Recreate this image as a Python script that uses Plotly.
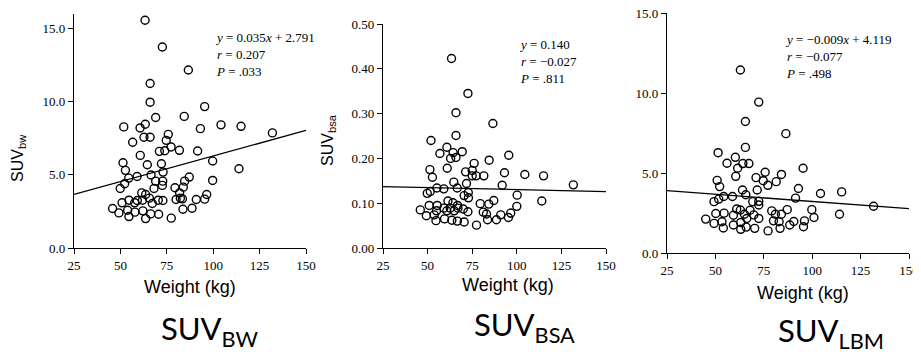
import plotly.graph_objects as go

# the page body keeps its default 8px margin, so the figure is drawn 8px in
W, H = 921, 355
OFF = 8
FW, FH = W - OFF, H - OFF

# Panel 1: SUV normalised by body weight
w_bw = [63.3, 72.6, 86.6, 66.0, 66.0, 95.4, 69.0, 84.4, 51.8, 60.6, 63.4, 104.2, 115.0, 93.1, 131.9,
        56.6, 62.7, 66.0, 75.8, 74.7, 77.3, 71.0, 73.9, 81.8, 91.6, 60.7, 99.7, 51.4, 64.5, 72.1,
        113.9, 52.7, 73.0, 54.5, 59.0, 66.5, 69.0, 72.8, 87.1, 84.6, 99.7, 52.3, 49.9, 72.6, 68.1,
        79.4, 83.9, 61.5, 63.6, 65.6, 81.9, 82.3, 83.4, 96.5, 95.4, 90.9, 80.0, 50.9, 54.6, 59.1,
        57.7, 61.9, 67.2, 70.4, 72.9, 45.8, 49.2, 53.9, 57.8, 62.1, 66.3, 70.6, 83.7, 88.6, 54.6,
        63.6, 77.4]
suv_bw = [15.57, 13.74, 12.17, 11.25, 9.97, 9.67, 8.92, 9.0, 8.28, 8.21, 8.46, 8.42, 8.32, 8.16, 7.87,
          7.23, 7.57, 7.57, 7.77, 7.36, 6.91, 6.61, 6.65, 6.68, 6.63, 6.33, 5.95, 5.83, 5.69, 5.76,
          5.42, 5.31, 5.19, 4.78, 4.89, 4.99, 4.57, 4.57, 4.85, 4.57, 4.62, 4.39, 4.07, 4.28, 4.07,
          4.12, 4.16, 3.77, 3.66, 3.41, 3.77, 3.41, 3.36, 3.66, 3.34, 3.32, 3.32, 3.09, 3.27, 3.25,
          3.09, 3.27, 3.04, 3.27, 3.25, 2.70, 2.40, 2.58, 2.45, 2.54, 2.33, 2.31, 2.65, 2.72, 2.15,
          2.01, 2.04]

# Panel 2: SUV normalised by body surface area
w_bsa = [63.4, 72.6, 65.9, 86.6, 65.9, 51.9, 60.8, 56.9, 64.3, 69.4, 65.9, 62.9, 95.5, 84.5, 76.1,
         51.3, 61.0, 71.3, 75.0, 93.1, 104.5, 115.0, 52.7, 75.0, 77.2, 81.5, 131.7, 64.7, 71.8, 91.8,
         55.2, 59.1, 66.6, 51.5, 49.8, 72.8, 70.5, 72.9, 100.2, 61.4, 64.2, 87.1, 114.0, 50.9, 55.4,
         66.8, 79.5, 84.3, 100.0, 59.1, 62.7, 67.0, 70.0, 45.9, 55.0, 60.8, 64.9, 72.6, 81.2, 83.0,
         96.6, 91.0, 49.3, 53.7, 59.5, 63.6, 54.7, 66.7, 70.5, 77.4, 88.6, 83.6, 95.3]
suv_bsa = [0.423, 0.345, 0.302, 0.278, 0.251, 0.240, 0.225, 0.211, 0.213, 0.215, 0.202, 0.200, 0.207,
           0.196, 0.189, 0.175, 0.178, 0.170, 0.173, 0.168, 0.164, 0.161, 0.158, 0.161, 0.161, 0.161,
           0.141, 0.147, 0.144, 0.140, 0.134, 0.132, 0.134, 0.126, 0.122, 0.124, 0.117, 0.112, 0.118,
           0.105, 0.101, 0.106, 0.105, 0.095, 0.095, 0.095, 0.099, 0.098, 0.093, 0.089, 0.089, 0.089,
           0.087, 0.085, 0.083, 0.083, 0.083, 0.081, 0.080, 0.076, 0.078, 0.074, 0.072, 0.074, 0.065,
           0.062, 0.061, 0.060, 0.058, 0.051, 0.063, 0.063, 0.068]

# Panel 3: SUV normalised by lean body mass
w_lbm = [62.9, 72.4, 65.5, 86.4, 65.5, 51.4, 60.3, 56.0, 64.2, 67.3, 61.5, 95.3, 75.7, 84.1, 60.5,
         71.0, 74.7, 50.9, 77.1, 81.4, 52.2, 71.6, 64.0, 92.9, 104.3, 115.2, 58.8, 54.3, 51.7, 65.7,
         91.4, 131.7, 49.3, 69.3, 72.4, 72.4, 61.0, 62.9, 67.9, 79.1, 87.1, 99.8, 50.2, 54.5, 59.3,
         65.0, 69.8, 81.0, 84.1, 114.1, 45.0, 53.4, 49.3, 59.3, 63.1, 66.2, 72.4, 80.0, 82.9, 90.5,
         100.9, 96.0, 54.1, 63.1, 65.9, 70.3, 77.2, 83.4, 88.4, 95.5]
suv_lbm = [11.44, 9.43, 8.22, 7.46, 6.60, 6.27, 5.98, 5.61, 5.59, 5.59, 5.30, 5.30, 5.05, 4.91, 4.79,
           4.71, 4.52, 4.54, 4.23, 4.46, 4.15, 3.94, 3.94, 4.03, 3.72, 3.82, 3.53, 3.53, 3.37, 3.64,
           3.43, 2.92, 3.21, 3.21, 3.23, 3.00, 2.75, 2.69, 2.67, 2.63, 2.71, 2.71, 2.47, 2.49, 2.36,
           2.42, 2.38, 2.42, 2.42, 2.42, 2.12, 1.95, 1.85, 1.75, 1.91, 2.16, 2.16, 2.01, 1.95, 1.97,
           2.22, 2.01, 1.56, 1.48, 1.62, 1.54, 1.38, 1.54, 1.75, 1.64]

# regression lines (end points at 25 and 150 kg)
fit_x = [25, 150]
fit_bw = [3.666, 8.041]
fit_bsa = [0.137, 0.126]
fit_lbm = [3.894, 2.769]

x_ticks = [25, 50, 75, 100, 125, 150]

stats = [
    "<i>y</i> = 0.035<i>x</i> + 2.791<br><i>r</i> = 0.207<br><i>P</i> = .033",
    "<i>y</i> = 0.140<br><i>r</i> = \u22120.027<br><i>P</i> = .811",
    "<i>y</i> = \u22120.009<i>x</i> + 4.119<br><i>r</i> = \u22120.077<br><i>P</i> = .498",
]
panel_names = ["SUV<sub>BW</sub>", "SUV<sub>BSA</sub>", "SUV<sub>LBM</sub>"]


def px_x(p):
    return (p - OFF) / FW


def px_y(p):
    return 1 - (p - OFF) / FH


serif = "Liberation Serif, Times New Roman, serif"
sans = "Liberation Sans, Arial, sans-serif"

fig = go.Figure()

panels = [(w_bw, suv_bw, fit_bw), (w_bsa, suv_bsa, fit_bsa), (w_lbm, suv_lbm, fit_lbm)]
for i, (wx, wy, fy) in enumerate(panels):
    n = "" if i == 0 else str(i + 1)
    fig.add_trace(go.Scatter(x=wx, y=wy, mode="markers", xaxis="x" + n, yaxis="y" + n,
                             marker=dict(symbol="circle-open", size=8, color="black",
                                         line=dict(width=1.4, color="black")),
                             showlegend=False))
    fig.add_trace(go.Scatter(x=fit_x, y=fy, mode="lines", xaxis="x" + n, yaxis="y" + n,
                             line=dict(color="black", width=1.3), showlegend=False))

ax = dict(showline=True, linecolor="black", linewidth=1.3, ticks="outside", ticklen=5,
          tickwidth=1.2, tickcolor="black", showgrid=False, zeroline=False, automargin=False,
          ticklabeloverflow="allow",
          tickfont=dict(family=serif, size=13, color="black"))

x_domains = [(74, 306), (383, 606), (667, 909)]
y_domains = [(248, 14), (248, 24), (253, 13)]
y_ranges = [[0, 16], [0, 0.5], [0, 15]]
y_tickvals = [[0, 5, 10, 15], [0, 0.1, 0.2, 0.3, 0.4, 0.5], [0, 5, 10, 15]]
y_fmt = [".1f", ".2f", ".1f"]

layout = dict(template="none", width=FW, height=FH, margin=dict(l=0, r=0, t=0, b=0, pad=0),
              plot_bgcolor="white", paper_bgcolor="white")
for i in range(3):
    n = "" if i == 0 else str(i + 1)
    layout["xaxis" + n] = dict(ax, domain=[px_x(x_domains[i][0]), px_x(x_domains[i][1])],
                               range=[25, 150], tickvals=x_ticks, anchor="y" + n)
    layout["yaxis" + n] = dict(ax, domain=[px_y(y_domains[i][0]), px_y(y_domains[i][1])],
                               range=y_ranges[i], tickvals=y_tickvals[i], tickformat=y_fmt[i],
                               anchor="x" + n)
fig.update_layout(**layout)

annotations = []
# statistics text
stat_pos = [(213, 28), (517, 35), (783, 30)]
for txt, (sx, sy) in zip(stats, stat_pos):
    annotations.append(dict(text=txt, x=px_x(sx), y=px_y(sy), xref="paper", yref="paper",
                            xanchor="left", yanchor="top", align="left", showarrow=False,
                            font=dict(family=serif, size=13, color="black")))
# x axis titles
for cx, cy in [(190, 287), (508, 285), (803, 293)]:
    annotations.append(dict(text="Weight (kg)", x=px_x(cx), y=px_y(cy), xref="paper", yref="paper",
                            xanchor="center", yanchor="middle", showarrow=False,
                            font=dict(family=sans, size=18, color="black")))
# y axis titles
for txt, cx, cy in [("SUV<sub>bw</sub>", 18, 158), ("SUV<sub>bsa</sub>", 328, 140)]:
    annotations.append(dict(text=txt, x=px_x(cx), y=px_y(cy), xref="paper", yref="paper",
                            xanchor="center", yanchor="middle", textangle=-90, showarrow=False,
                            font=dict(family=sans, size=16, color="black")))
# panel labels below
for txt, cx, cy in zip(panel_names, [209, 524, 831], [330, 326, 332]):
    annotations.append(dict(text=txt, x=px_x(cx), y=px_y(cy), xref="paper", yref="paper",
                            xanchor="center", yanchor="middle", showarrow=False,
                            font=dict(family="Lato, Noto Sans, sans-serif", size=31, color="black")))
fig.update_layout(annotations=annotations)

fig.write_html("out.html")
